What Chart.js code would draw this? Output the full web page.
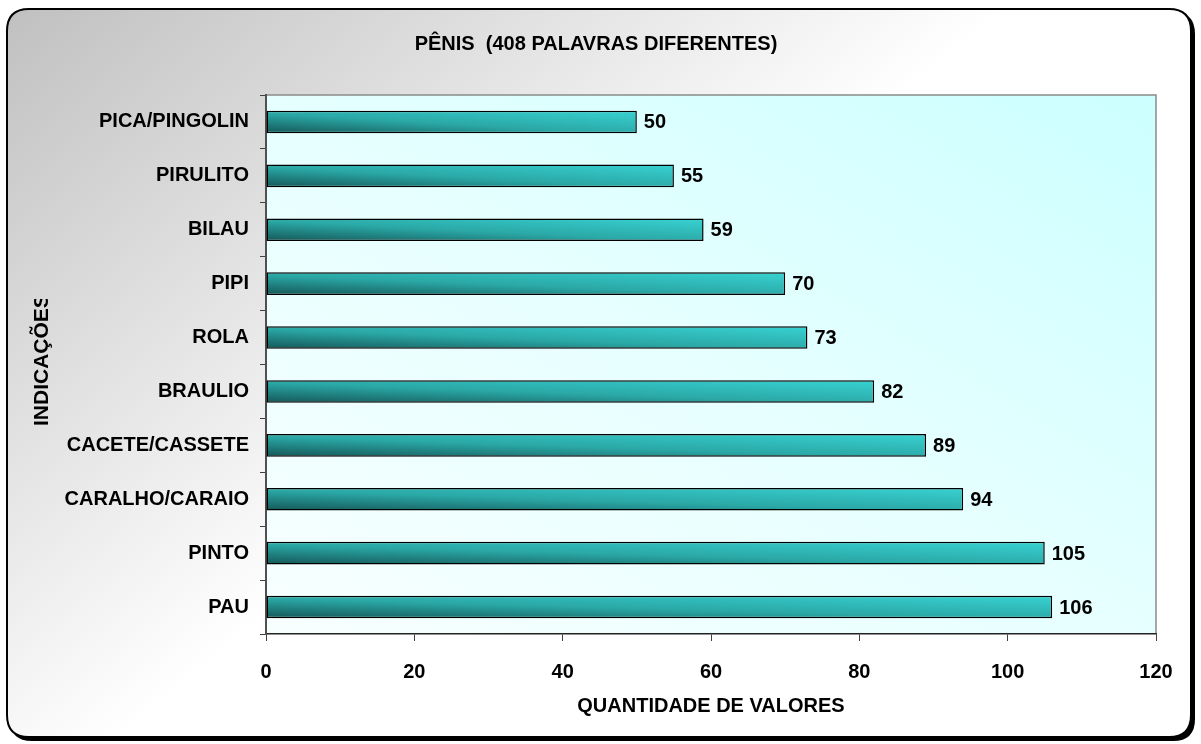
<!DOCTYPE html>
<html>
<head>
<meta charset="utf-8">
<script src="https://cdn.jsdelivr.net/npm/chart.js@4.4.0/dist/chart.umd.min.js"></script>
<style>
  html, body { margin: 0; padding: 0; background: #fff; }
  canvas { display: block; }
</style>
</head>
<body>
<canvas id="chart" width="1201" height="744" style="width:1201px;height:744px"></canvas>
<script>
const categories = ["PICA/PINGOLIN", "PIRULITO", "BILAU", "PIPI", "ROLA", "BRAULIO",
                    "CACETE/CASSETE", "CARALHO/CARAIO", "PINTO", "PAU"];
const counts = [50, 55, 59, 70, 73, 82, 89, 94, 105, 106];
const xTicks = [0, 20, 40, 60, 80, 100, 120];
const chartTitle = "PÊNIS  (408 PALAVRAS DIFERENTES)";
const xTitle = "QUANTIDADE DE VALORES";
const yTitle = "INDICAÇÕES";

const FONT = "'Liberation Sans', Arial, sans-serif";

function roundRect(c, x, y, w, h, r) {
    c.beginPath();
    c.moveTo(x + r, y);
    c.lineTo(x + w - r, y);
    c.quadraticCurveTo(x + w, y, x + w, y + r);
    c.lineTo(x + w, y + h - r);
    c.quadraticCurveTo(x + w, y + h, x + w - r, y + h);
    c.lineTo(x + r, y + h);
    c.quadraticCurveTo(x, y + h, x, y + h - r);
    c.lineTo(x, y + r);
    c.quadraticCurveTo(x, y, x + r, y);
    c.closePath();
}

// gradient running corner to corner of a box (bottom-left -> top-right)
function diagGradient(c, left, top, right, bottom, stops) {
    const w = Math.max(1, right - left), h = Math.max(1, bottom - top);
    const gx = 0.5 / w, gy = -0.5 / h;
    const g2 = gx * gx + gy * gy;
    const g = c.createLinearGradient(left, bottom, left + gx / g2, bottom + gy / g2);
    stops.forEach(s => g.addColorStop(s[0], s[1]));
    return g;
}

function barFill(context) {
    const chart = context.chart;
    const xs = chart.scales.x, ys = chart.scales.y;
    if (!xs || !ys || context.raw === undefined) return "#2aa8a8";
    const base = xs.getPixelForValue(0);
    const end = xs.getPixelForValue(context.raw);
    const yc = ys.getPixelForValue(context.dataIndex);
    const h = (ys.height / categories.length) * 0.41;
    if (![base, end, yc, h].every(Number.isFinite)) return "#2aa8a8";
    return diagGradient(chart.ctx, base, yc - h / 2, end, yc + h / 2,
        [[0, "#155858"], [0.45, "#2aa8a6"], [1, "#38d2d2"]]);
}

const framePlugin = {
    id: "frame",
    beforeDraw(chart) {
        const c = chart.ctx;
        const a = chart.chartArea;
        c.save();
        c.fillStyle = "#fff";
        c.fillRect(0, 0, chart.width, chart.height);

        // shadow
        roundRect(c, 10, 12, 1185, 729, 22);
        c.fillStyle = "#000";
        c.fill();

        // frame
        roundRect(c, 7, 9, 1184, 728, 22);
        const fg = c.createLinearGradient(7, 9, 410, 500);
        fg.addColorStop(0, "#c0c0c0");
        fg.addColorStop(1, "#ffffff");
        c.fillStyle = fg;
        c.fill();
        c.lineWidth = 2;
        c.strokeStyle = "#000";
        c.stroke();

        // plot area
        c.fillStyle = diagGradient(c, a.left, a.top, a.right, a.bottom,
            [[0, "#f8ffff"], [0.5, "#e6ffff"], [1, "#ccffff"]]);
        c.fillRect(a.left, a.top, a.right - a.left, a.bottom - a.top);

        c.strokeStyle = "#8a8a8a";
        c.lineWidth = 1.5;
        c.beginPath();
        c.moveTo(a.left, a.top);
        c.lineTo(a.right, a.top);
        c.lineTo(a.right, a.bottom);
        c.stroke();

        // titles
        c.fillStyle = "#000";
        c.textAlign = "center";
        c.textBaseline = "middle";
        c.font = "bold 20px " + FONT;
        c.fillText(chartTitle, 596, 44);
        c.fillText(xTitle, (a.left + a.right) / 2, 706);

        c.save();
        c.beginPath();
        c.rect(0, 299, 200, 300);
        c.clip();
        c.translate(42, 426);
        c.rotate(-Math.PI / 2);
        c.textAlign = "left";
        c.font = "bold 21px " + FONT;
        c.fillText(yTitle, 0, 0);
        c.restore();

        c.restore();
    },
    afterDatasetsDraw(chart) {
        const c = chart.ctx;
        const meta = chart.getDatasetMeta(0);
        c.save();
        c.fillStyle = "#000";
        c.font = "bold 20px " + FONT;
        c.textAlign = "left";
        c.textBaseline = "middle";
        meta.data.forEach((bar, i) => {
            c.fillText(String(counts[i]), bar.x + 7, bar.y + 1);
        });
        c.restore();
    }
};

new Chart(document.getElementById("chart"), {
    type: "bar",
    data: {
        labels: categories,
        datasets: [{
            data: counts,
            backgroundColor: barFill,
            borderColor: "#000",
            borderWidth: 1.5,
            borderSkipped: false,
            barPercentage: 0.84,
            categoryPercentage: 0.5
        }]
    },
    options: {
        indexAxis: "y",
        responsive: false,
        animation: false,
        events: [],
        layout: { padding: { top: 95, right: 45, left: 0, bottom: 0 } },
        plugins: {
            legend: { display: false },
            tooltip: { enabled: false },
            title: { display: false }
        },
        scales: {
            x: {
                min: 0,
                max: 120,
                afterFit(scale) { scale.height = 110; },
                afterBuildTicks(scale) { scale.ticks = xTicks.map(v => ({ value: v })); },
                grid: {
                    drawOnChartArea: false,
                    drawTicks: true,
                    tickLength: 7,
                    color: "#404040"
                },
                border: { display: true, color: "#222", width: 1.5 },
                ticks: {
                    color: "#000",
                    font: { family: FONT, size: 20, weight: "bold" },
                    padding: 19,
                    maxRotation: 0
                }
            },
            y: {
                afterFit(scale) { scale.width = 266; },
                grid: {
                    offset: true,
                    drawOnChartArea: false,
                    drawTicks: true,
                    tickLength: 6,
                    color: "#404040"
                },
                border: { display: true, color: "#505050", width: 2 },
                ticks: {
                    color: "#000",
                    font: { family: FONT, size: 20, weight: "bold" },
                    padding: 11
                }
            }
        }
    },
    plugins: [framePlugin]
});
</script>
</body>
</html>
